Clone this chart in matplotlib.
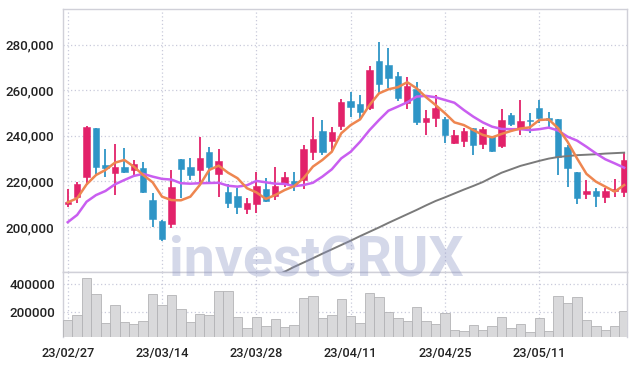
import matplotlib
matplotlib.use("Agg")
import matplotlib.pyplot as plt
import numpy as np

dates = ["23/02/27", "23/02/28", "23/03/02", "23/03/03", "23/03/06", "23/03/07", "23/03/08", "23/03/09", "23/03/10", "23/03/13",
         "23/03/14", "23/03/15", "23/03/16", "23/03/17", "23/03/20", "23/03/21", "23/03/22", "23/03/23", "23/03/24", "23/03/27",
         "23/03/28", "23/03/29", "23/03/30", "23/03/31", "23/04/03", "23/04/04", "23/04/05", "23/04/06", "23/04/07", "23/04/10",
         "23/04/11", "23/04/12", "23/04/13", "23/04/14", "23/04/17", "23/04/18", "23/04/19", "23/04/20", "23/04/21", "23/04/24",
         "23/04/25", "23/04/26", "23/04/27", "23/04/28", "23/05/02", "23/05/03", "23/05/04", "23/05/08", "23/05/09", "23/05/10",
         "23/05/11", "23/05/12", "23/05/15", "23/05/16", "23/05/17", "23/05/18", "23/05/19", "23/05/22", "23/05/23", "23/05/24"]

opens = [210100, 213300, 222100, 243300, 227200, 223800, 226300, 225000, 225900, 211700,
         202600, 201200, 229800, 226500, 225000, 233000, 223400, 215500, 213600, 208000,
         210200, 216700, 213700, 219000, 220200, 220600, 233000, 242100, 237700, 244300,
         255300, 254000, 252300, 272800, 271200, 266100, 254600, 260400, 246200, 247600,
         247200, 237000, 237900, 243300, 236400, 240100, 235500, 249000, 243300, 246800,
         252100, 247600, 247400, 235000, 224300, 214300, 215800, 213300, 215800, 215500]
highs = [216500, 219900, 244300, 243300, 234100, 236300, 234500, 229400, 228600, 215100,
         203000, 225000, 229800, 230100, 239600, 235000, 234100, 218700, 217000, 212600,
         224000, 221600, 226200, 224300, 224000, 236000, 248200, 246900, 244000, 256000,
         259400, 257900, 270600, 281100, 278300, 268000, 266000, 263800, 251300, 257900,
         248400, 242500, 243300, 243300, 243700, 240100, 251600, 250100, 255600, 249900,
         255700, 250600, 247400, 236000, 224300, 220600, 217200, 217000, 220900, 232600]
lows = [208900, 210400, 218400, 223300, 222100, 214000, 223600, 222400, 215000, 200100,
        193800, 199400, 212600, 220600, 218400, 219200, 213300, 208200, 205600, 205700,
        206000, 211100, 211800, 217700, 215900, 216500, 229400, 231600, 233000, 242500,
        248400, 246900, 251300, 258500, 261100, 255300, 251600, 244700, 240400, 244000,
        237000, 236400, 235200, 231600, 234300, 232800, 234500, 244300, 240400, 241100,
        245500, 243300, 222800, 217700, 210100, 212200, 208900, 210400, 213300, 213300]
closes = [211100, 218900, 243700, 226500, 226000, 226300, 224300, 227500, 215400, 203400,
          194700, 217500, 225400, 222800, 230400, 226500, 229000, 210700, 208900, 210700,
          218100, 211500, 218000, 221900, 218100, 234200, 238600, 233000, 241800, 254700,
          252500, 250600, 268900, 262500, 265500, 256600, 261800, 246200, 247600, 252000,
          240200, 240200, 242000, 236100, 242900, 233500, 247100, 245200, 246500, 246400,
          247900, 246900, 230600, 226000, 212600, 215800, 213700, 215800, 216700, 229400]

ma5 = [210800, 212600, 218700, 222800, 225000, 228200, 229400, 226500, 222800, 219600,
       213300, 211800, 211700, 213300, 218400, 225000, 226900, 223800, 221400, 217000,
       215200, 212300, 214000, 216200, 217900, 221400, 226500, 229400, 233000, 241100,
       244700, 247200, 253500, 258600, 260400, 261300, 263500, 260800, 256900, 253500,
       249900, 245900, 244700, 242500, 240400, 239300, 240800, 242100, 243200, 243700,
       246900, 247200, 243300, 237400, 230100, 223300, 219900, 217700, 215500, 218400]
ma10 = [202100, 205300, 211100, 214000, 215800, 218700, 220600, 222400, 223300, 222100,
        221100, 220800, 219200, 219000, 219200, 219300, 219400, 218100, 217700, 218300,
        220200, 219600, 219000, 218900, 217900, 218400, 219400, 222100, 225300, 230100,
        233000, 237400, 242500, 246900, 251000, 252800, 254700, 257200, 257500, 256900,
        255700, 254500, 251300, 248400, 245900, 244000, 243000, 242900, 242900, 242500,
        242900, 243600, 242300, 239600, 237900, 235200, 232300, 229700, 227900, 226000]
nan = float("nan")
ma60 = [nan] * 22 + [178500, 180400, 182500, 184400, 186300, 188300, 190200, 192100,
                     194000, 196000, 197900, 199800, 201800, 203700, 205600, 207500, 209500, 211400,
                     213000, 214700, 216400, 218000, 219700, 221800, 223800, 225300, 226800, 227900,
                     229000, 230000, 230700, 231100, 231500, 231700, 231900, 232200, 232400, 232600]

volumes = [145000, 180700, 442900, 330700, 121400, 252100, 130700, 116400, 137900, 330700,
           252100, 323600, 221400, 130700, 187900, 180700, 350000, 350000, 164300, 85700,
           164300, 102100, 150000, 92900, 109300, 300000, 316400, 157100, 180700, 292900,
           173600, 125700, 335700, 307100, 204300, 157100, 137900, 235700, 137900, 116400,
           192900, 73600, 66400, 107100, 73600, 102100, 168600, 85700, 114300, 59300,
           157100, 64300, 316400, 264300, 307100, 142900, 102100, 71400, 102100, 207100]

price_ticks = [200000, 220000, 240000, 260000, 280000]
volume_ticks = [200000, 400000]
date_tick_idx = [0, 10, 20, 30, 40, 50]

UP = "#e2226a"
DOWN = "#2e95c6"
GRID = "#c9cadb"
SPINE = "#d0d0d8"

plt.rcParams["font.family"] = ["Roboto", "DejaVu Sans"]

W, H = 637, 366
fig = plt.figure(figsize=(W / 100, H / 100), dpi=100)
L, R = 63.3 / W, 627 / W
ax = fig.add_axes([L, 1 - 272.3 / H, R - L, (272.3 - 9.3) / H])
axv = fig.add_axes([L, 1 - 337.3 / H, R - L, (337.3 - 272.3) / H], sharex=ax)

x = np.arange(len(dates))
o = np.array(opens); c = np.array(closes); h = np.array(highs); lo = np.array(lows)
up = c >= o
cols = np.where(up, UP, DOWN)

ax.vlines(x, lo, h, colors=cols, linewidth=1.3, zorder=3)
body_bottom = np.minimum(o, c)
body_h = np.maximum(np.abs(c - o), 700)
ax.bar(x, body_h, bottom=body_bottom, width=0.68, color=cols, edgecolor=cols,
       linewidth=0.4, zorder=4)

ax.plot(x, ma60, color="#7a7a7a", linewidth=1.4, zorder=5)
ax.plot(x, ma10, color="#c95ef0", linewidth=1.8, zorder=5)
ax.plot(x, ma5, color="#ee8650", linewidth=1.8, zorder=6)

ax.set_xlim(-0.47, 59.3)
ax.set_ylim(180130, 295480)
ax.set_yticks(price_ticks)
ax.set_yticklabels([f"{v:,}" for v in price_ticks])
ax.set_xticks(date_tick_idx)
ax.tick_params(axis="x", labelbottom=False, length=0)
ax.tick_params(axis="y", length=0, pad=6.5, labelsize=9.6, labelcolor="#222222")
for t in ax.get_yticklabels():
    t.set_fontweight("medium")
ax.grid(True, color=GRID, linestyle=(0, (1, 2)), linewidth=0.9)
ax.set_axisbelow(True)
for s in ax.spines.values():
    s.set_color(SPINE)
    s.set_linewidth(1.0)

axv.bar(x, volumes, width=1.0, color="#d9d9db", edgecolor="#b3b3b6", linewidth=0.6, zorder=3)
axv.set_ylim(21000, 486000)
axv.set_yticks(volume_ticks)
axv.set_yticklabels([str(v) for v in volume_ticks])
axv.set_xticks(date_tick_idx)
axv.set_xticklabels([dates[i] for i in date_tick_idx])
axv.tick_params(axis="x", length=0, pad=7, labelsize=9.2, labelcolor="#222222")
axv.tick_params(axis="y", length=0, pad=6, labelsize=9.6, labelcolor="#222222")
for t in axv.get_yticklabels() + axv.get_xticklabels():
    t.set_fontweight("medium")
axv.grid(True, color=GRID, linestyle=(0, (1, 2)), linewidth=0.9)
axv.set_axisbelow(True)
for k, s in axv.spines.items():
    s.set_color(SPINE)
    s.set_linewidth(1.0)
axv.spines["bottom"].set_visible(False)

fig.text(316.5 / W, 1 - 276 / H, "investCRUX", ha="center", va="baseline",
         fontsize=40, fontweight="bold", color="#8a93c4", alpha=0.36, zorder=10,
         family=["Roboto", "DejaVu Sans"])

fig.savefig("out.png", dpi=100, facecolor="white")
